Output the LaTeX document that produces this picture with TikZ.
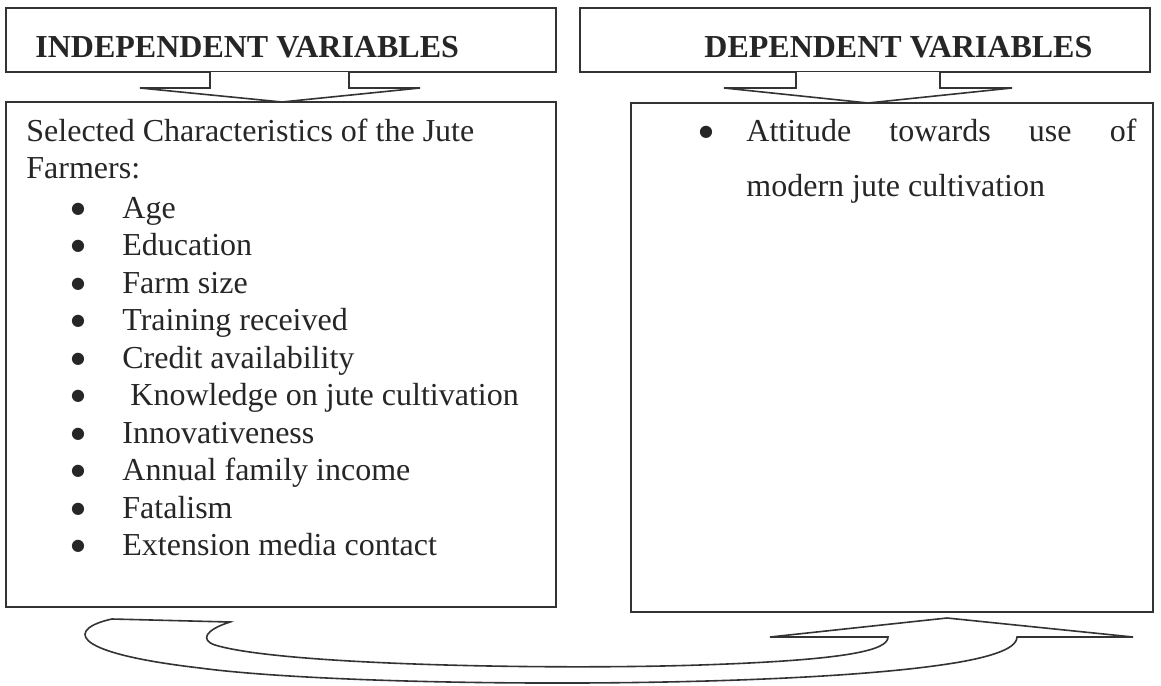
\documentclass[tikz,border=0pt]{standalone}
\usepackage{fontspec}
\setmainfont{Liberation Serif}
\newfontfamily\symfont{DejaVu Sans}
\begin{document}
\begin{tikzpicture}[x=0.5pt,y=-0.5pt,
  ln/.style={draw=black!80,line width=0.8pt,line join=miter},
  boxn/.style={ln,rectangle,inner sep=0pt,outer sep=0pt},
  txt/.style={anchor=base west,inner sep=0pt,font=\fontsize{16}{19}\selectfont,text=black!85},
  hd/.style={anchor=base west,inner sep=0pt,font=\fontsize{16}{19}\selectfont\bfseries,text=black!85},
  bul/.style={anchor=center,inner sep=0pt,font=\symfont\fontsize{8}{9}\selectfont,text=black!85}]
\useasboundingbox (0,0) rectangle (1161,685);
\fill[white] (0,0) rectangle (1161,685);

% boxes
\node[boxn,minimum width=275pt,minimum height=32pt] (hl) at (281,40) {};
\node[boxn,minimum width=285pt,minimum height=32pt] (hr) at (865,40) {};
\node[boxn,minimum width=275pt,minimum height=252.5pt] (bl) at (281,354.5) {};
\node[boxn,minimum width=261pt,minimum height=254.5pt] (br) at (892,357.5) {};

% headers
\node[hd] (thl) at (35,57) {INDEPENDENT VARIABLES};
\node[hd] (thr) at (704,57) {DEPENDENT VARIABLES};

% down arrows
\draw[ln,fill=white] (210,72) -- (210,88) -- (140,88) -- (282,102) -- (420,88) -- (349,88) -- (349,72);
\draw[ln,fill=white] (796,72) -- (796,88) -- (724,88) -- (868,103) -- (1012,88) -- (940,88) -- (940,72);

% left texts
\node[txt] (s1) at (26,141) {Selected Characteristics of the Jute};
\node[txt] (s2) at (26,178) {Farmers:};
\foreach \t [count=\i] in {Age,Education,Farm size,Training received,Credit availability,{\ Knowledge on jute cultivation},Innovativeness,Annual family income,Fatalism,Extension media contact}{
  \node[bul] (b\i) at (78,{209+37.5*(\i-1)}) {●};
  \node[txt] (i\i) at (122,{218+37.5*(\i-1)}) {\t};
}

% right texts
\node[bul] (rb) at (706,132) {●};
\node[txt] (r1) at (746,141) {\makebox[195pt][s]{Attitude\hfill towards\hfill use\hfill of}};
\node[txt] (r2) at (746,196) {modern jute cultivation};

% curved arrow
\draw[ln,fill=white] (112,619) .. controls (70,628) and (62,652) .. (200,668)
  .. controls (350,688) and (800,690) .. (960,662)
  .. controls (1005,654) and (1017,645) .. (1017,637)
  -- (1133,637) -- (947,618) -- (770,637) -- (888,637)
  .. controls (888,650) and (850,660) .. (700,665)
  .. controls (550,670) and (280,665) .. (215,645)
  .. controls (200,640) and (205,630) .. (230,622) -- cycle;
\end{tikzpicture}
\end{document}
